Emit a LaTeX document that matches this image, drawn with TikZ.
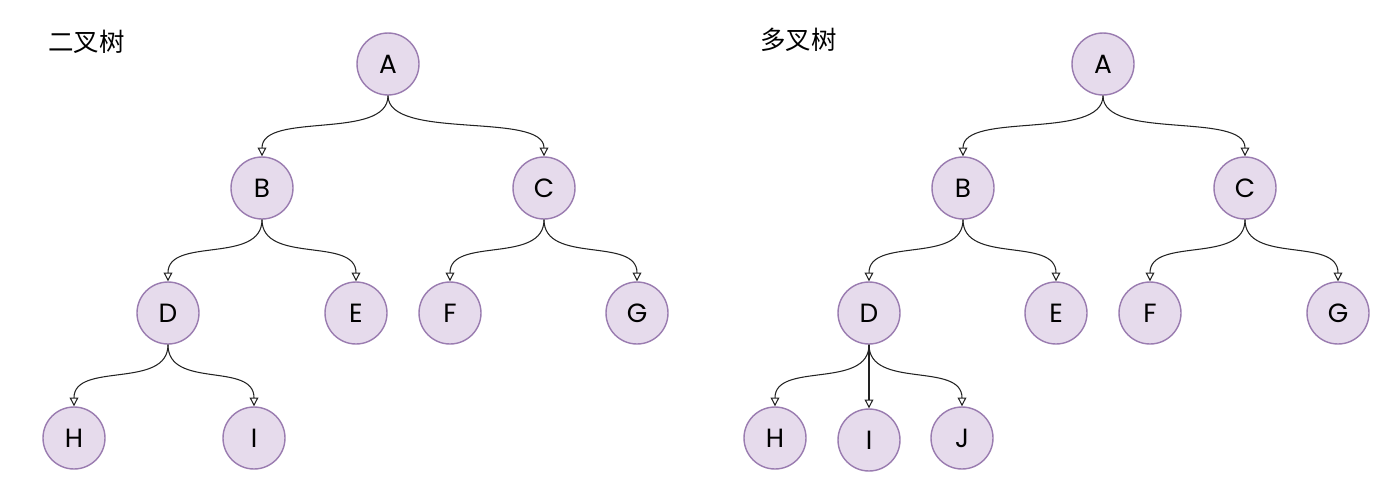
\documentclass[tikz,border=0pt]{standalone}
\usepackage{fontspec}
\setmainfont{Poppins}
\newfontfamily\cjk{Noto Sans CJK SC}
\usetikzlibrary{arrows.meta}
\definecolor{nodefill}{HTML}{E6DBEC}
\definecolor{nodedraw}{HTML}{9A7CB0}
\definecolor{linec}{HTML}{222222}
\begin{document}
\begin{tikzpicture}[x=0.02cm,y=-0.02cm,
  tnode/.style={circle,draw=nodedraw,fill=nodefill,line width=0.8pt,minimum size=1.24cm,inner sep=0pt,font=\fontsize{15}{15}\selectfont,text=black},
  edge/.style={draw=linec,line width=0.6pt,-{Triangle[open,length=5pt,width=5pt]}},
  title/.style={font=\cjk\fontsize{14.5}{14.5}\selectfont,anchor=west}]
\useasboundingbox (0,0) rectangle (1400,501);
\newcommand{\cedge}[2]{\draw[edge] (#1.south) .. controls +(0,45) and +(0,-45) .. (#2.north);}
% left tree
\node[title] (t1) at (42,42) {二叉树};
\node[tnode] (A) at (388,64) {A};
\node[tnode] (B) at (262,188) {B};
\node[tnode] (C) at (544,188) {C};
\node[tnode] (D) at (168,313) {D};
\node[tnode] (E) at (356,313) {E};
\node[tnode] (F) at (450,313) {F};
\node[tnode] (G) at (637,313) {G};
\node[tnode] (H) at (74,438) {H};
\node[tnode] (I) at (254,438) {I};
\cedge{A}{B}\cedge{A}{C}
\cedge{B}{D}\cedge{B}{E}
\cedge{C}{F}\cedge{C}{G}
\cedge{D}{H}\cedge{D}{I}
% right tree
\node[title] (t2) at (754,40) {多叉树};
\node[tnode] (A2) at (1103,64) {A};
\node[tnode] (B2) at (963,188) {B};
\node[tnode] (C2) at (1245,188) {C};
\node[tnode] (D2) at (869,313) {D};
\node[tnode] (E2) at (1056,313) {E};
\node[tnode] (F2) at (1150,313) {F};
\node[tnode] (G2) at (1338,313) {G};
\node[tnode] (H2) at (775,438) {H};
\node[tnode] (I2) at (869,440) {I};
\node[tnode] (J2) at (962,438) {J};
\cedge{A2}{B2}\cedge{A2}{C2}
\cedge{B2}{D2}\cedge{B2}{E2}
\cedge{C2}{F2}\cedge{C2}{G2}
\cedge{D2}{H2}\cedge{D2}{J2}
\draw[edge] (D2.south) -- (I2.north);
\end{tikzpicture}
\end{document}
